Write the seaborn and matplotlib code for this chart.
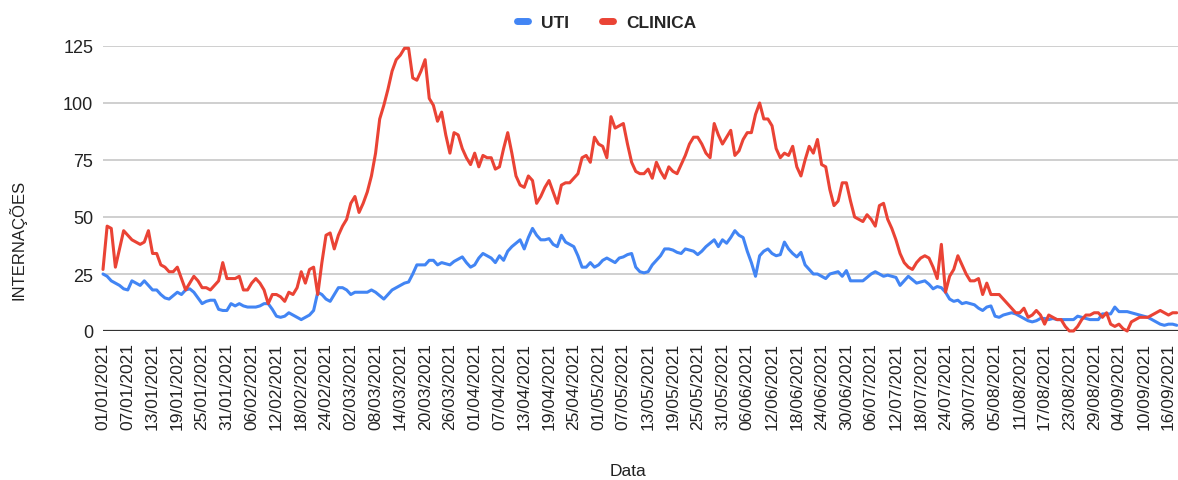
import numpy as np
import pandas as pd
import matplotlib
matplotlib.use('Agg')
import matplotlib.pyplot as plt
from matplotlib.lines import Line2D
import seaborn as sns

# daily values, 01/01/2021 onwards
uti = [
    25, 24, 22, 21, 20, 18.5, 18, 22, 21, 20,
    22, 20, 18, 18, 16, 14.5, 14, 15.5, 17, 16,
    18, 18.5, 17, 14.5, 12, 13, 13.5, 13.5, 9.5, 9,
    9, 12, 11, 12, 11, 10.5, 10.5, 10.5, 11, 12,
    12, 9.5, 6.5, 6, 6.5, 8, 7, 6, 5, 6,
    7, 9, 17, 16, 14, 13, 16, 19, 19, 18,
    16, 17, 17, 17, 17, 18, 17, 15.5, 14, 16,
    18, 19, 20, 21, 21.5, 25, 29, 29, 29, 31,
    31, 29, 30, 29.5, 29, 30.5, 31.5, 32.5, 30, 28,
    29, 32, 34, 33, 32, 30, 33, 31, 35, 37,
    38.5, 40, 36, 41, 45, 42, 40, 40, 40.5, 38,
    37, 42, 39, 38, 37, 33, 28, 28, 30, 28,
    29, 31, 32, 31, 30, 32, 32.5, 33.5, 34, 28,
    26, 25.5, 26, 29, 31, 33, 36, 36, 35.5, 34.5,
    34, 36, 35.5, 35, 33.5, 35, 37, 38.5, 40, 37,
    40, 38.5, 41, 44, 42, 41, 35, 30, 24, 33,
    35, 36, 34, 33, 33.5, 39, 36, 34, 32.5, 34.5,
    29, 27, 25, 25, 24, 23, 25, 25.5, 26, 24,
    26.5, 22, 22, 22, 22, 23.5, 25, 26, 25, 24,
    24.5, 24, 23.5, 20, 22, 24, 22.5, 21, 21.5, 22,
    20.5, 18.5, 19.5, 19, 17, 14, 13, 13.5, 12, 12.5,
    12, 11.5, 10, 9, 10.5, 11, 6.5, 6, 7, 7.5,
    8, 7.5, 6.5, 5.5, 4.5, 4, 4.5, 5.5, 5.5, 5,
    5.5, 5, 5, 5, 5, 5, 6.5, 6, 5.5, 5,
    5, 5, 7.5, 7.5, 7.5, 10.5, 8.5, 8.5, 8.5, 8,
    7.5, 7, 6.5, 6, 5, 4, 3, 2.5, 3, 3, 2.5,
]

clinica = [
    27, 46, 45, 28, 36, 44, 42, 40, 39, 38,
    39, 44, 34, 34, 29, 28, 26, 26, 28, 23,
    18, 21, 24, 22, 19, 19, 18, 20, 22, 30,
    23, 23, 23, 24, 18, 18, 21, 23, 21, 18,
    12, 16, 16, 15, 13, 17, 16, 19, 26, 21,
    27, 28, 16, 30, 42, 43, 36, 42, 46, 49,
    56, 59, 52, 56, 61, 68, 78, 93, 99, 106,
    114, 119, 121, 124, 124, 111, 110, 114, 119, 102,
    99, 92, 96, 86, 78, 87, 86, 80, 76, 73,
    78, 72, 77, 76, 76, 71, 72, 80, 87, 78,
    68, 64, 63, 68, 66, 56, 59, 63, 66, 61,
    56, 64, 65, 65, 67, 69, 76, 77, 74, 85,
    82, 81, 76, 94, 89, 90, 91, 82, 74, 70,
    69, 69, 71, 67, 74, 70, 67, 72, 70, 69,
    73, 77, 82, 85, 85, 82, 78, 76, 91, 86,
    82, 85, 88, 77, 79, 84, 87, 87, 95, 100,
    93, 93, 90, 80, 76, 78, 77, 81, 72, 68,
    75, 81, 78, 84, 73, 72, 62, 55, 57, 65,
    65, 57, 50, 49, 48, 51, 49, 46, 55, 56,
    49, 45, 40, 34, 30, 28, 27, 30, 32, 33,
    32, 28, 23, 38, 17, 24, 27, 33, 29, 25,
    22, 22, 23, 16, 21, 16, 16, 16, 14, 12,
    10, 8, 8, 10, 6, 7, 9, 7, 3, 7,
    6, 5, 5, 2, 0, 0, 2, 5, 7, 7,
    8, 8, 6, 8, 3, 2, 3, 1, 0, 4,
    5, 6, 6, 6, 7, 8, 9, 8, 7, 8, 8,
]

series_names = ['UTI', 'CLINICA']
colors = {'UTI': '#4285F4', 'CLINICA': '#EA4335'}
start = pd.Timestamp('2021-01-01')
dates = pd.date_range(start, periods=len(uti), freq='D')

df = pd.DataFrame({'Data': dates, 'UTI': uti, 'CLINICA': clinica})
long_df = df.melt(id_vars='Data', value_vars=series_names,
                  var_name='Serie', value_name='Internacoes')

sns.set_style('white')
plt.rcParams['font.family'] = ['Liberation Sans', 'DejaVu Sans']

fig = plt.figure(figsize=(11.78, 4.81), dpi=100)
ax = fig.add_axes([103 / 1178, 1 - 332 / 481, 1 - 103 / 1178, (332 - 47) / 481])

sns.lineplot(data=long_df, x='Data', y='Internacoes', hue='Serie',
             hue_order=series_names, palette=colors, linewidth=2.2,
             legend=False, ax=ax, clip_on=False)

# axes styling, Google Sheets look
ax.set_ylim(0, 125)
ax.set_yticks([0, 25, 50, 75, 100, 125])
ax.set_xlim(start, start + pd.Timedelta(days=260.3))
ticks = pd.date_range('2021-01-01', '2021-09-16', freq='6D')
ax.set_xticks(ticks)
ax.set_xticklabels([t.strftime('%d/%m/%Y') for t in ticks], rotation=90,
                   ha='center', fontsize=12.5, color='#222222')
ax.tick_params(axis='y', labelsize=13, colors='#222222', length=0, pad=7)
ax.tick_params(axis='x', length=0, pad=8)
for s in ax.spines.values():
    s.set_visible(False)
ax.yaxis.grid(True, color='#cccccc', linewidth=1.3)
ax.set_axisbelow(True)
ax.axhline(0, color='#333333', linewidth=1.6, zorder=1.5)
ax.set_xlabel('')
ax.set_ylabel('')

fig.text(18 / 1178, 1 - 240 / 481, 'INTERNAÇÕES', rotation=90, ha='center',
         va='center', fontsize=12, color='#222222')
fig.text(628 / 1178, 1 - 472 / 481, 'Data', ha='center', va='center',
         fontsize=12.5, color='#222222')

handles = [Line2D([0], [0], color=colors[n], lw=5, solid_capstyle='round')
           for n in series_names]
leg = fig.legend(handles, series_names, loc='center',
                 bbox_to_anchor=(607 / 1178, 1 - 23 / 481), ncol=2,
                 frameon=False, handlelength=0.6, columnspacing=1.9,
                 handletextpad=0.8, prop={'weight': 'bold', 'size': 12.5})

plt.savefig('out.png', dpi=100)
plt.close()
